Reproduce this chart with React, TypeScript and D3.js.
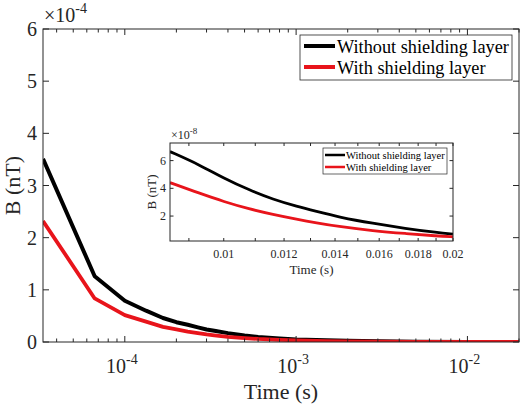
import React from "react";
import * as d3 from "d3";

const mainTimes = [3.33e-5, 6.67e-5, 1e-4, 1.33e-4, 1.67e-4, 2e-4, 2.33e-4, 2.67e-4, 3e-4, 3.33e-4, 4e-4, 5e-4, 6e-4, 8e-4, 1e-3, 1.5e-3, 2e-3, 3e-3, 5e-3, 1e-2, 2e-2];
const mainWithout = [3.51, 1.26, 0.79, 0.6, 0.46, 0.38, 0.33, 0.28, 0.24, 0.215, 0.17, 0.125, 0.097, 0.068, 0.05, 0.032, 0.022, 0.012, 0.005, 0.0006, 0.0001];
const mainWith = [2.32, 0.835, 0.516, 0.39, 0.29, 0.24, 0.2, 0.17, 0.145, 0.128, 0.1, 0.075, 0.058, 0.042, 0.031, 0.018, 0.012, 0.007, 0.003, 0.0004, 0.0001];

const insetTimes = [0.0085, 0.0093, 0.01, 0.0108, 0.0116, 0.0125, 0.0132, 0.0142, 0.0157, 0.0173, 0.0191, 0.02];
const insetWithout = [6.65, 5.69, 4.73, 3.88, 3.21, 2.68, 2.35, 1.91, 1.47, 1.11, 0.8, 0.7];
const insetWith = [4.41, 3.64, 3.04, 2.51, 2.12, 1.76, 1.52, 1.23, 0.94, 0.74, 0.56, 0.5];

const seriesNames = ["Without shielding layer", "With shielding layer"];
const seriesColors = ["#000000", "#e8141b"];

const mainYTicks = [0, 1, 2, 3, 4, 5, 6];
const mainXMajor = [1e-4, 1e-3, 1e-2];
const mainXLabels = ["-4", "-3", "-2"];
const insetYTicks = [2, 4, 6];
const insetXTicks = [0.009, 0.01, 0.011, 0.012, 0.013, 0.014, 0.015, 0.016, 0.017, 0.018, 0.019, 0.02];
const insetXLabels = ["0.01", "0.012", "0.014", "0.016", "0.018", "0.02"];

const FONT = "'Liberation Serif', 'Times New Roman', serif";
const AX = "#262626";

export default function App() {
  const W = 523, H = 409;
  // main plot
  const L = 43, R = 519, T = 29, B = 342;
  const x = d3.scaleLog().domain([3.33e-5, 0.02]).range([L, R]);
  const y = d3.scaleLinear().domain([0, 6]).range([B, T]);

  const minor: number[] = [];
  for (let e = -5; e <= -2; e++) {
    for (let k = 2; k <= 9; k++) {
      const v = k * Math.pow(10, e);
      if (v >= 3.33e-5 && v <= 0.02) minor.push(v);
    }
  }

  const lineMain = (vals: number[]) =>
    d3.line<number>().x((_, i) => x(mainTimes[i])).y((d) => y(d))(vals) || "";

  // inset
  const iL = 170, iR = 453, iT = 143, iB = 241;
  const ix = d3.scaleLog().domain([0.0085, 0.02]).range([iL, iR]);
  const iy = d3.scaleLinear().domain([0.2, 7.27]).range([iB, iT]);
  const lineInset = (vals: number[]) =>
    d3.line<number>().x((_, i) => ix(insetTimes[i])).y((d) => iy(d)).curve(d3.curveBasis)(vals) || "";

  const majT = 6, minT = 3.5;

  return (
    <svg width={W} height={H} style={{ position: "absolute", left: 0, top: 0, background: "#fff" }} fontFamily={FONT}>
      <rect x={0} y={0} width={W} height={H} fill="#fff" />
      <defs>
        <clipPath id="mclip"><rect x={L} y={T} width={R - L} height={B - T} /></clipPath>
        <clipPath id="iclip"><rect x={iL} y={iT} width={iR - iL} height={iB - iT} /></clipPath>
      </defs>
      {/* main curves */}
      <g clipPath="url(#mclip)">
        <path d={lineMain(mainWithout)} fill="none" stroke={seriesColors[0]} strokeWidth={4} strokeLinejoin="round" />
        <path d={lineMain(mainWith)} fill="none" stroke={seriesColors[1]} strokeWidth={3.8} strokeLinejoin="round" />
      </g>
      {/* main axes */}
      <rect x={L} y={T} width={R - L} height={B - T} fill="none" stroke={AX} strokeWidth={1} />
      {mainYTicks.map((v) => (
        <g key={"y" + v}>
          <line x1={L} x2={L + majT} y1={y(v)} y2={y(v)} stroke={AX} />
          <line x1={R} x2={R - majT} y1={y(v)} y2={y(v)} stroke={AX} />
          <text x={L - 6} y={y(v) + 7} fontSize={20} textAnchor="end" fill={AX}>{v}</text>
        </g>
      ))}
      {mainXMajor.map((v, i) => (
        <g key={"x" + v}>
          <line x1={x(v)} x2={x(v)} y1={B} y2={B - majT} stroke={AX} />
          <line x1={x(v)} x2={x(v)} y1={T} y2={T + majT} stroke={AX} />
          <text x={x(v) - 3} y={373} fontSize={20} textAnchor="middle" fill={AX}>
            10<tspan fontSize={14} dy={-9}>{mainXLabels[i]}</tspan>
          </text>
        </g>
      ))}
      {minor.map((v) => (
        <g key={"m" + v}>
          <line x1={x(v)} x2={x(v)} y1={B} y2={B - minT} stroke={AX} />
          <line x1={x(v)} x2={x(v)} y1={T} y2={T + minT} stroke={AX} />
        </g>
      ))}
      <text x={44} y={22} fontSize={20} fill={AX}>×10<tspan fontSize={14} dy={-9}>-4</tspan></text>
      <text transform={`translate(20,${(T + B) / 2}) rotate(-90)`} fontSize={22} textAnchor="middle" fill={AX}>B (nT)</text>
      <text x={(L + R) / 2} y={399} fontSize={22} textAnchor="middle" fill={AX}>Time (s)</text>

      {/* main legend */}
      <rect x={300} y={35} width={212} height={45} fill="#fff" stroke={AX} strokeWidth={0.8} />
      {seriesNames.map((n, i) => (
        <g key={n}>
          <line x1={304} x2={335} y1={46 + i * 21} y2={46 + i * 21} stroke={seriesColors[i]} strokeWidth={4} />
          <text x={337} y={52.5 + i * 21} fontSize={18.3} fill="#000">{n}</text>
        </g>
      ))}

      {/* inset */}
      <rect x={iL} y={iT} width={iR - iL} height={iB - iT} fill="#fff" />
      <g clipPath="url(#iclip)">
        <path d={lineInset(insetWithout)} fill="none" stroke={seriesColors[0]} strokeWidth={2.8} />
        <path d={lineInset(insetWith)} fill="none" stroke={seriesColors[1]} strokeWidth={2.8} />
      </g>
      <rect x={iL} y={iT} width={iR - iL} height={iB - iT} fill="none" stroke={AX} strokeWidth={1} />
      {insetYTicks.map((v) => (
        <g key={"iy" + v}>
          <line x1={iL} x2={iL + 3.5} y1={iy(v)} y2={iy(v)} stroke={AX} />
          <line x1={iR} x2={iR - 3.5} y1={iy(v)} y2={iy(v)} stroke={AX} />
          <text x={iL - 4} y={iy(v) + 4} fontSize={12} textAnchor="end" fill={AX}>{v}</text>
        </g>
      ))}
      {insetXTicks.map((v) => (
        <g key={"ix" + v}>
          <line x1={ix(v)} x2={ix(v)} y1={iB} y2={iB - 3} stroke={AX} />
          <line x1={ix(v)} x2={ix(v)} y1={iT} y2={iT + 3} stroke={AX} />
        </g>
      ))}
      {insetXLabels.map((s) => (
        <text key={"il" + s} x={ix(+s)} y={258} fontSize={12} textAnchor="middle" fill={AX}>{s}</text>
      ))}
      <text x={iL + 1} y={139} fontSize={12} fill={AX}>×10<tspan fontSize={9} dy={-5}>-8</tspan></text>
      <text transform={`translate(156,${(iT + iB) / 2}) rotate(-90)`} fontSize={13} textAnchor="middle" fill={AX}>B (nT)</text>
      <text x={(iL + iR) / 2} y={274} fontSize={13} textAnchor="middle" fill={AX}>Time (s)</text>

      {/* inset legend */}
      <rect x={323} y={148} width={124} height={26} fill="#fff" stroke={AX} strokeWidth={0.7} />
      {seriesNames.map((n, i) => (
        <g key={"il" + n}>
          <line x1={325} x2={345} y1={155 + i * 12} y2={155 + i * 12} stroke={seriesColors[i]} strokeWidth={2.5} />
          <text x={346} y={159 + i * 12} fontSize={10.5} fill="#000">{n}</text>
        </g>
      ))}
    </svg>
  );
}
